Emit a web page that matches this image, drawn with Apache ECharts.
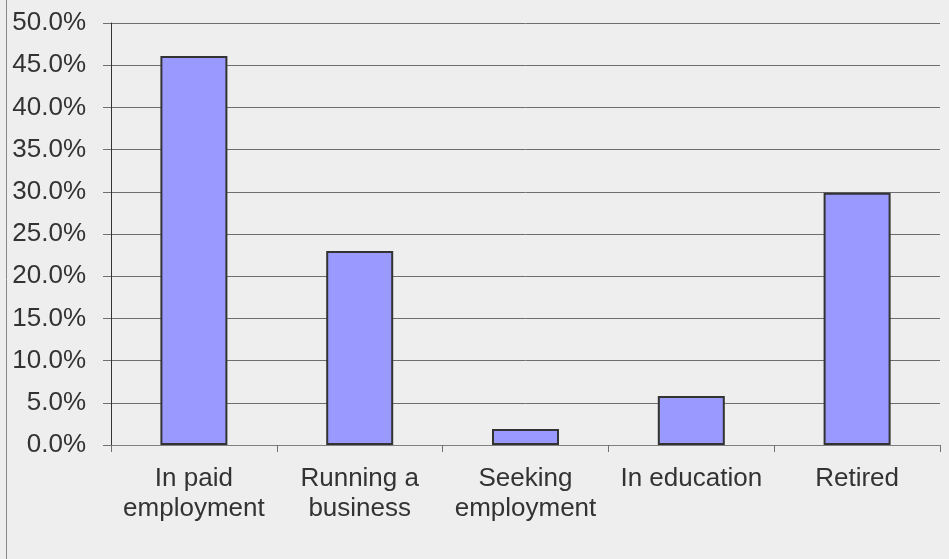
<!DOCTYPE html>
<html><head><meta charset="utf-8">
<script src="https://cdn.jsdelivr.net/npm/echarts@6/dist/echarts.min.js"></script>
<style>html,body{margin:0;padding:0;background:#eeeeee;}#c{width:949px;height:559px;}</style>
</head><body><div id="c"></div>
<script>
const categories = ['In paid\nemployment', 'Running a\nbusiness', 'Seeking\nemployment', 'In education', 'Retired'];
const values = [46.1, 23.0, 1.9, 5.8, 29.9];

const chart = echarts.init(document.getElementById('c'), null, {renderer: 'canvas'});
chart.setOption({
  backgroundColor: '#eeeeee',
  animation: false,
  graphic: [{type: 'line', shape: {x1: 6.5, y1: 0, x2: 6.5, y2: 559}, style: {stroke: '#888888', lineWidth: 1}}],
  grid: {left: 111, right: 9, top: 23, bottom: 114, containLabel: false},
  xAxis: {
    type: 'category', data: categories,
    axisLine: {lineStyle: {color: '#808080', width: 1}},
    axisTick: {show: true, alignWithLabel: false, length: 7, lineStyle: {color: '#707070'}},
    axisLabel: {color: '#333333', fontSize: 26, fontFamily: 'Liberation Sans, Arial, sans-serif', lineHeight: 30, margin: 19, interval: 0}
  },
  yAxis: {
    type: 'value', min: 0, max: 50, interval: 5,
    axisLine: {show: true, lineStyle: {color: '#333333', width: 1}},
    axisTick: {show: true, inside: false, length: 8, lineStyle: {color: '#707070'}},
    splitLine: {show: true, lineStyle: {color: '#6e6e6e', width: 1}},
    axisLabel: {color: '#333333', fontSize: 26, fontFamily: 'Liberation Sans, Arial, sans-serif', margin: 25,
      formatter: v => v.toFixed(1) + '%'}
  },
  series: [{
    type: 'bar', data: values, barWidth: 67,
    itemStyle: {color: '#9999ff', borderColor: '#333333', borderWidth: 2}
  }]
});
</script></body></html>
